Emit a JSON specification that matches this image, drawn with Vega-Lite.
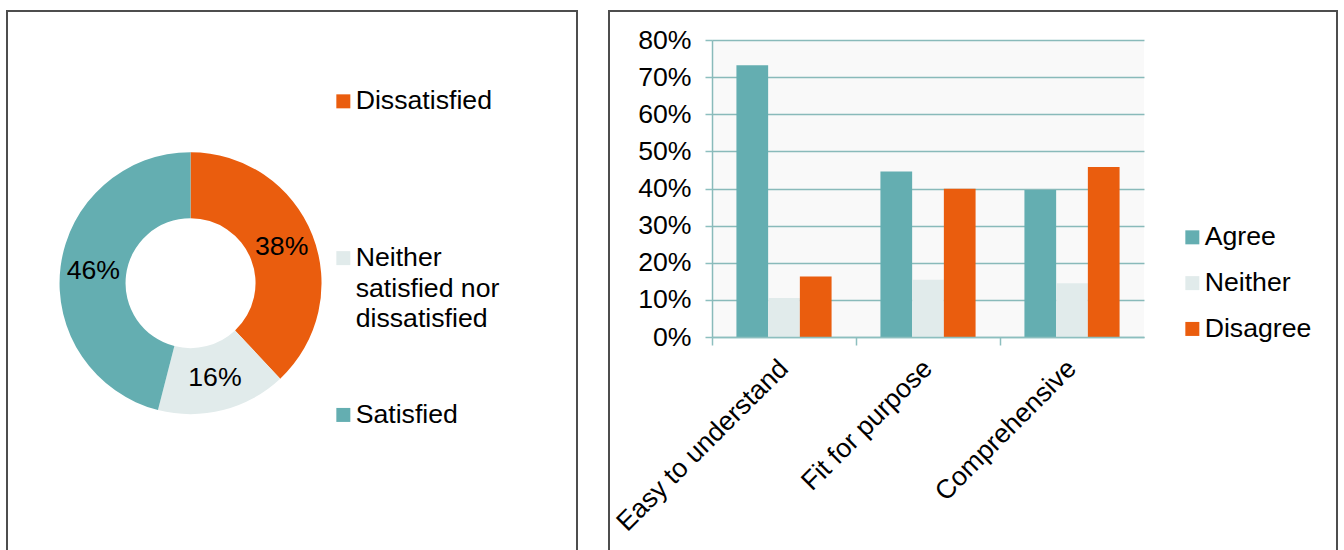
{
  "$schema": "https://vega.github.io/schema/vega-lite/v6.json",
  "padding": {"left": 6, "top": 10, "right": 0, "bottom": 0},
  "background": "white",
  "config": {
    "font": "Liberation Sans",
    "view": {"stroke": "#4D4D4D", "strokeWidth": 2},
    "concat": {"spacing": 30},
    "style": {"guide-label": {"lineHeight": 30.5}}
  },
  "resolve": {
    "scale": {"color": "independent", "x": "independent", "y": "independent", "theta": "independent"},
    "legend": {"color": "independent"}
  },
  "hconcat": [
    {
      "width": 570,
      "height": 560,
      "data": {
        "values": [
          {"Response": "Dissatisfied", "Share": 0.38},
          {"Response": "Neither satisfied nor dissatisfied", "Share": 0.16},
          {"Response": "Satisfied", "Share": 0.46}
        ]
      },
      "encoding": {
        "theta": {"field": "Share", "type": "quantitative", "stack": true},
        "order": {"field": "Response", "type": "nominal", "sort": "ascending"},
        "x": {"datum": 0.322, "type": "quantitative", "scale": {"domain": [0, 1]}, "axis": null},
        "y": {"datum": 0.514, "type": "quantitative", "scale": {"domain": [0, 1]}, "axis": null}
      },
      "layer": [
        {
          "mark": {"type": "arc", "outerRadius": 131, "innerRadius": 65},
          "encoding": {
            "color": {
              "field": "Response",
              "type": "nominal",
              "scale": {
                "domain": ["Dissatisfied", "Neither satisfied nor dissatisfied", "Satisfied"],
                "range": ["#EA5D0E", "#E1EBEB", "#64AEB1"]
              },
              "legend": {
                "orient": "none",
                "legendX": 323,
                "legendY": 77,
                "title": null,
                "symbolType": "square",
                "symbolSize": 196,
                "symbolStrokeWidth": 0,
                "labelFontSize": 26.67,
                "labelColor": "#000000",
                "labelOffset": -1,
                "labelLimit": 400,
                "gridAlign": "all",
                "rowPadding": 67.8,
                "labelExpr": "datum.label == 'Neither satisfied nor dissatisfied' ? ['Neither', 'satisfied nor', 'dissatisfied'] : datum.label"
              }
            }
          }
        },
        {
          "mark": {"type": "text", "radius": 98, "fontSize": 26.67, "color": "#000000"},
          "encoding": {
            "detail": {"field": "Response", "type": "nominal"},
            "text": {"field": "Share", "type": "quantitative", "format": ".0%"}
          }
        }
      ]
    },
    {
      "width": 728,
      "height": 560,
      "data": {
        "values": [
          {"Category": "Easy to understand", "Response": "Agree", "Share": 0.732},
          {"Category": "Easy to understand", "Response": "Neither", "Share": 0.105},
          {"Category": "Easy to understand", "Response": "Disagree", "Share": 0.163},
          {"Category": "Fit for purpose", "Response": "Agree", "Share": 0.446},
          {"Category": "Fit for purpose", "Response": "Neither", "Share": 0.154},
          {"Category": "Fit for purpose", "Response": "Disagree", "Share": 0.399},
          {"Category": "Comprehensive", "Response": "Agree", "Share": 0.396},
          {"Category": "Comprehensive", "Response": "Neither", "Share": 0.145},
          {"Category": "Comprehensive", "Response": "Disagree", "Share": 0.458}
        ]
      },
      "encoding": {
        "x": {
          "field": "Category",
          "type": "nominal",
          "sort": ["Easy to understand", "Fit for purpose", "Comprehensive"],
          "scale": {"range": [103, 535], "paddingInner": 0, "paddingOuter": 0},
          "axis": {
            "title": null,
            "orient": "bottom",
            "offset": -234,
            "bandPosition": 0,
            "labelOffset": 0,
            "labelAngle": -45,
            "labelAlign": "right",
            "labelBaseline": "middle",
            "labelPadding": 19,
            "labelFontSize": 26.67,
            "labelColor": "#000000",
            "labelFlush": false,
            "labelOverlap": false,
            "labelBound": false,
            "labelLimit": 400,
            "tickSize": 8,
            "tickColor": "#8DBFBF",
            "tickWidth": 1.5,
            "domainColor": "#8DBFBF",
            "domainWidth": 1.5,
            "grid": false,
            "zindex": 1
          }
        }
      },
      "layer": [
        {
          "transform": [{"filter": "datum.Response == 'Agree'"}],
          "mark": {"type": "bar", "color": "#000000", "opacity": 0.025},
          "encoding": {
            "y": {
              "datum": 0.8,
              "type": "quantitative",
              "scale": {"domain": [0, 0.8], "range": [326, 29], "nice": false, "zero": true},
              "axis": {
                "title": null,
                "orient": "left",
                "offset": -103,
                "format": ".0%",
                "values": [0, 0.1, 0.2, 0.3, 0.4, 0.5, 0.6, 0.7, 0.8],
                "labelFontSize": 26.67,
                "labelColor": "#000000",
                "labelPadding": 14,
                "labelFlush": false,
                "labelBaseline": "middle",
                "tickSize": 7,
                "tickColor": "#8DBFBF",
                "tickWidth": 1.5,
                "domainColor": "#8DBFBF",
                "domainWidth": 1.5,
                "grid": true,
                "gridColor": "#8DBFBF",
                "gridWidth": 1.5
              }
            },
            "y2": {"datum": 0}
          }
        },
        {
          "mark": {"type": "bar"},
          "encoding": {
            "xOffset": {
              "field": "Response",
              "type": "nominal",
              "sort": ["Agree", "Neither", "Disagree"],
              "scale": {"paddingInner": 0, "paddingOuter": 0.77}
            },
            "y": {
              "field": "Share",
              "type": "quantitative",
              "scale": {"domain": [0, 0.8], "range": [326, 29], "nice": false, "zero": true},
              "axis": {
                "title": null,
                "orient": "left",
                "offset": -103,
                "format": ".0%",
                "values": [0, 0.1, 0.2, 0.3, 0.4, 0.5, 0.6, 0.7, 0.8],
                "labelFontSize": 26.67,
                "labelColor": "#000000",
                "labelPadding": 14,
                "labelFlush": false,
                "labelBaseline": "middle",
                "tickSize": 7,
                "tickColor": "#8DBFBF",
                "tickWidth": 1.5,
                "domainColor": "#8DBFBF",
                "domainWidth": 1.5,
                "grid": true,
                "gridColor": "#8DBFBF",
                "gridWidth": 1.5
              }
            },
            "color": {
              "field": "Response",
              "type": "nominal",
              "scale": {
                "domain": ["Agree", "Neither", "Disagree"],
                "range": ["#64AEB1", "#E1EBEB", "#EA5D0E"]
              },
              "legend": {
                "orient": "none",
                "legendX": 570,
                "legendY": 213,
                "title": null,
                "symbolType": "square",
                "symbolSize": 196,
                "symbolStrokeWidth": 0,
                "labelFontSize": 26.67,
                "labelColor": "#000000",
                "labelOffset": -1,
                "labelLimit": 300,
                "rowPadding": 17.8
              }
            }
          }
        }
      ]
    }
  ]
}
